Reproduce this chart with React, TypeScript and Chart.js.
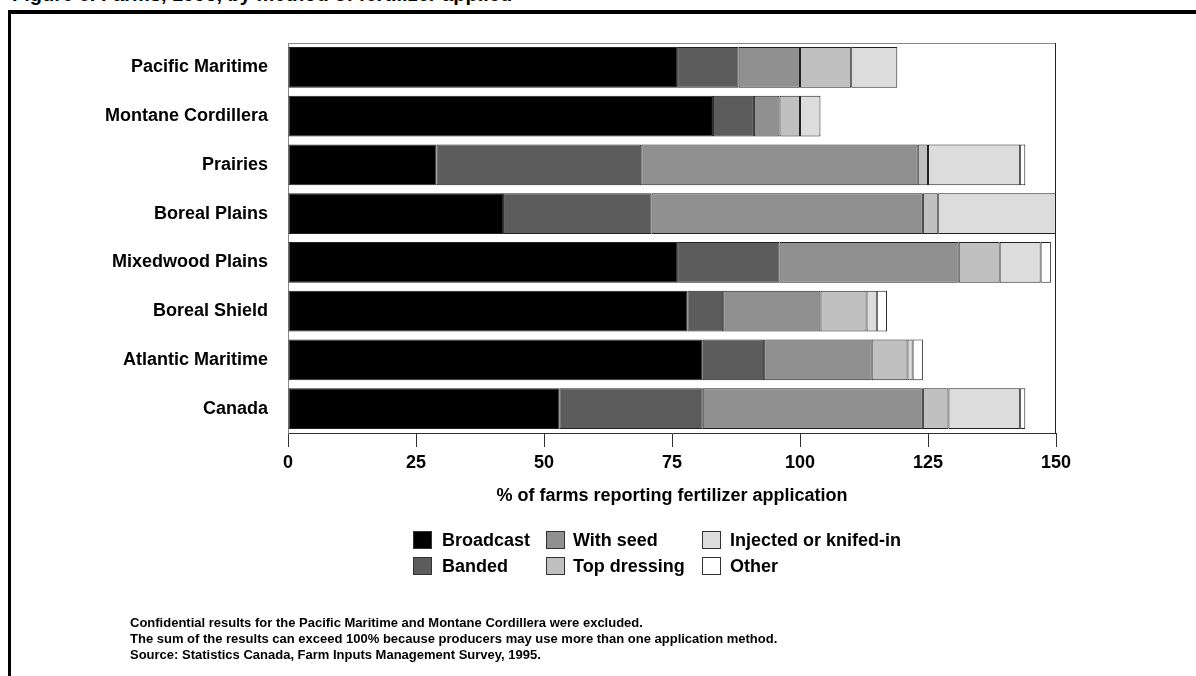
import React, { useEffect, useRef } from "react";
import { Chart, registerables } from "chart.js";

Chart.register(...registerables);

const regions = [
  "Pacific Maritime",
  "Montane Cordillera",
  "Prairies",
  "Boreal Plains",
  "Mixedwood Plains",
  "Boreal Shield",
  "Atlantic Maritime",
  "Canada",
];
const broadcast = [76, 83, 29, 42, 76, 78, 81, 53];
const banded = [12, 8, 40, 29, 20, 7, 12, 28];
const withSeed = [12, 5, 54, 53, 35, 19, 21, 43];
const topDressing = [10, 4, 2, 3, 8, 9, 7, 5];
const injected = [9, 4, 18, 23, 8, 2, 1, 14];
const other = [0, 0, 1, 0, 2, 2, 2, 1];

const seriesNames = ["Broadcast", "Banded", "With seed", "Top dressing", "Injected or knifed-in", "Other"];
const seriesColors = ["#000000", "#5c5c5c", "#909090", "#c0c0c0", "#dcdcdc", "#ffffff"];
const seriesData = [broadcast, banded, withSeed, topDressing, injected, other];
const xTickStep = 25;
const xMax = 150;

const FONT = '"Liberation Sans", Arial, Helvetica, sans-serif';

const frameBorderPlugin = {
  id: "frameBorder",
  afterDraw(chart: any) {
    const { ctx, chartArea } = chart;
    ctx.save();
    ctx.lineWidth = 1;
    ctx.strokeStyle = "#888";
    ctx.beginPath();
    ctx.moveTo(chartArea.left, chartArea.top + 0.5);
    ctx.lineTo(chartArea.right, chartArea.top + 0.5);
    ctx.stroke();
    ctx.strokeStyle = "#222";
    ctx.beginPath();
    ctx.moveTo(chartArea.right - 0.5, chartArea.top);
    ctx.lineTo(chartArea.right - 0.5, chartArea.bottom);
    ctx.stroke();
    ctx.restore();
  },
};

export default function App() {
  const ref = useRef<HTMLCanvasElement>(null);

  useEffect(() => {
    if (!ref.current) return;
    const font = { family: FONT, size: 18, weight: "bold" as const };
    const chart = new Chart(ref.current, {
      type: "bar",
      data: {
        labels: regions,
        datasets: seriesData.map((d, i) => ({
          label: seriesNames[i],
          data: d,
          backgroundColor: seriesColors[i],
          borderColor: "#222",
          borderWidth: 1,
          borderSkipped: false,
          barPercentage: 0.84,
          categoryPercentage: 1,
        })),
      },
      options: {
        indexAxis: "y",
        animation: false,
        responsive: false,
        maintainAspectRatio: false,
        devicePixelRatio: 1,
        layout: { padding: { left: 0, right: 140, top: 43, bottom: 0 } },
        plugins: {
          legend: { display: false },
          tooltip: { enabled: false },
        },
        scales: {
          x: {
            stacked: true,
            min: 0,
            max: xMax,
            ticks: { stepSize: xTickStep, padding: 5, color: "#000", font },
            grid: { drawOnChartArea: false, drawTicks: true, tickLength: 14, color: "#333" },
            border: { color: "#333", width: 1 },
            title: {
              display: true,
              text: "% of farms reporting fertilizer application",
              color: "#000",
              font,
              padding: { top: 0, bottom: 169 },
            },
            afterFit: (s: any) => {
              s.height = 243;
            },
          },
          y: {
            stacked: true,
            ticks: { padding: 20, color: "#000", font },
            grid: { display: false, drawTicks: false },
            border: { color: "#888", width: 1 },
            afterFit: (s: any) => {
              s.width = 288;
            },
          },
        },
      },
      plugins: [frameBorderPlugin],
    });
    return () => chart.destroy();
  }, []);

  const legendCols = [
    { box: 413, text: 442, items: [0, 1] },
    { box: 546, text: 573, items: [2, 3] },
    { box: 702, text: 730, items: [4, 5] },
  ];
  const rowCenters = [540, 566];

  return (
    <div
      style={{
        position: "fixed",
        top: 0,
        left: 0,
        width: 1196,
        height: 676,
        overflow: "hidden",
        background: "#fff",
        fontFamily: FONT,
        fontWeight: "bold",
        color: "#000",
      }}
    >
      <div
        style={{
          position: "absolute",
          left: 12,
          top: -18,
          fontSize: 20,
          lineHeight: "24px",
          whiteSpace: "nowrap",
        }}
      >
        Figure 8.  Farms, 1995, by method of fertilizer applied
      </div>
      <div style={{ position: "absolute", left: 8, top: 10, width: 1188, height: 4, background: "#000" }} />
      <div style={{ position: "absolute", left: 8, top: 10, width: 3, height: 666, background: "#000" }} />
      <canvas
        ref={ref}
        width={1196}
        height={676}
        style={{ position: "absolute", left: 0, top: 0, width: 1196, height: 676 }}
      />
      {legendCols.map((col, ci) =>
        col.items.map((si, ri) => (
          <React.Fragment key={`${ci}-${ri}`}>
            <div
              style={{
                position: "absolute",
                left: col.box,
                top: rowCenters[ri] - 9,
                width: 17,
                height: 16,
                background: seriesColors[si],
                border: "1px solid #333",
              }}
            />
            <div
              style={{
                position: "absolute",
                left: col.text,
                top: rowCenters[ri] - 11,
                fontSize: 18,
                lineHeight: "22px",
                whiteSpace: "nowrap",
              }}
            >
              {seriesNames[si]}
            </div>
          </React.Fragment>
        ))
      )}
      <div
        style={{
          position: "absolute",
          left: 130,
          top: 615,
          fontSize: 13,
          lineHeight: "16px",
          whiteSpace: "nowrap",
        }}
      >
        <div>Confidential results for the Pacific Maritime and Montane Cordillera were excluded.</div>
        <div>The sum of the results can exceed 100% because producers may use more than one application method.</div>
        <div>Source: Statistics Canada, Farm Inputs Management Survey, 1995.</div>
      </div>
    </div>
  );
}
